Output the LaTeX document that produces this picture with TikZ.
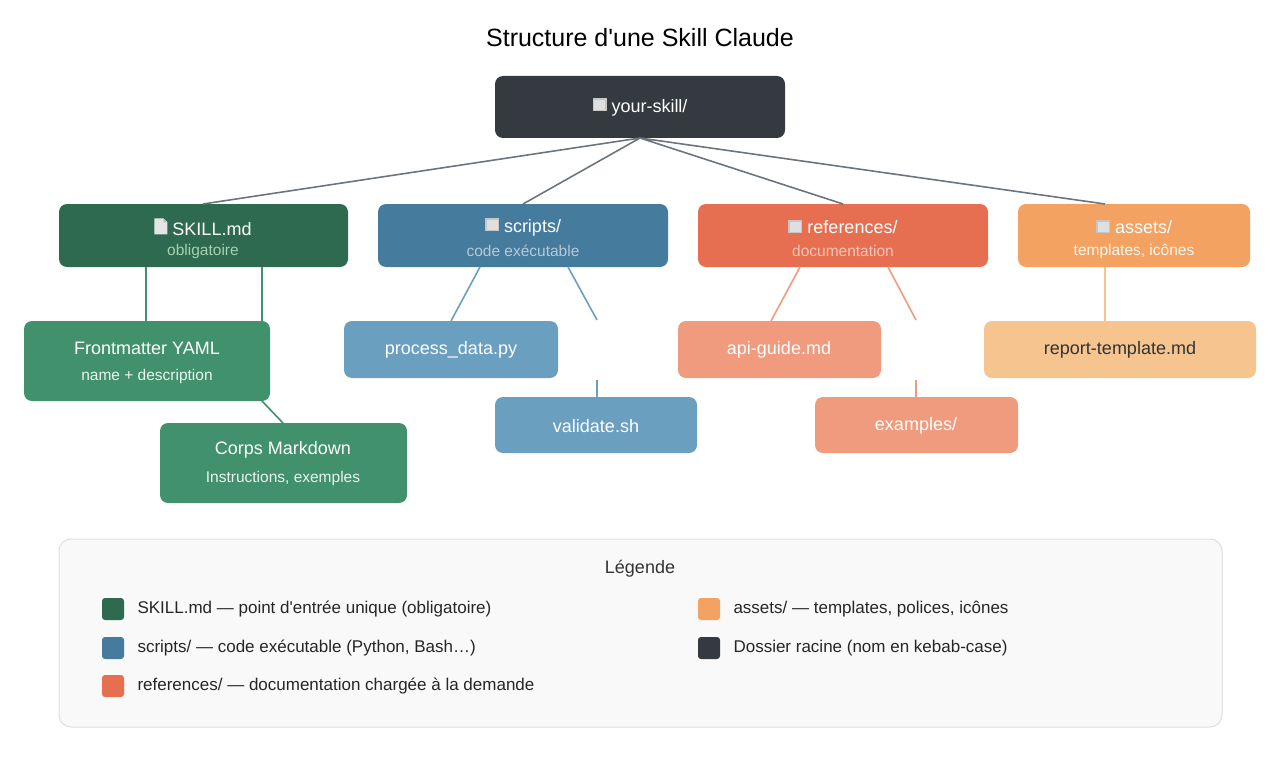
\documentclass[tikz,border=0pt]{standalone}
\usepackage{fontspec}
\setmainfont{Liberation Sans}
\begin{document}
\definecolor{cdark}{HTML}{343A40}
\definecolor{cgreen}{HTML}{2D6A4F}
\definecolor{cgreenl}{HTML}{40916C}
\definecolor{cblue}{HTML}{457B9D}
\definecolor{cbluel}{HTML}{6A9FBF}
\definecolor{cred}{HTML}{E76F51}
\definecolor{credl}{HTML}{F09A7E}
\definecolor{corange}{HTML}{F4A261}
\definecolor{corangel}{HTML}{F5C48F}
\definecolor{cedge}{HTML}{6C757D}
\newcommand{\fico}{\tikz[baseline=-1pt,x=1pt,y=1pt]{\fill[gray!45] (0,0) rectangle (14,13);\fill[gray!25](1.5,1)rectangle(12.5,11);}\hspace{5pt}}
\newcommand{\dico}{\tikz[baseline=-1pt,x=1pt,y=1pt]{\fill[gray!20] (0,0) -- (0,16) -- (9,16) -- (13,12) -- (13,0) -- cycle;\fill[gray!50](9,16)--(9,12)--(13,12)--cycle;}\hspace{5pt}}
\begin{tikzpicture}[x=1pt,y=-1pt,
 box/.style={rounded corners=8pt,draw=none},
 lab/.style={font=\fontsize{18}{21}\selectfont,text=white},
 sub/.style={font=\fontsize{15.5}{18}\selectfont},
 e/.style={line width=1.6pt}]
\useasboundingbox (0,0) rectangle (1280,757);
\node[font=\fontsize{25}{29}\selectfont] (title) at (640,38) {Structure d\textquotesingle une Skill Claude};
% root
\fill[cdark,box] (495,76) rectangle (785,138);
\node[lab] (root) at (640,107) {\fico your-skill/};
% level 1
\fill[cgreen,box] (59,204) rectangle (348,267);
\node[lab] (skill) at (203,227) {\dico SKILL.md};
\node[sub,text=green!20!cgreen!40!white] (skills) at (203,251) {obligatoire};
\fill[cblue,box] (378,204) rectangle (668,267);
\node[lab] (scripts) at (523,227) {\fico scripts/};
\node[sub,text=cblue!40!white] (scriptss) at (523,251) {code exécutable};
\fill[cred,box] (698,204) rectangle (988,267);
\node[lab] (refs) at (843,227) {\fico references/};
\node[sub,text=cred!40!white] (refss) at (843,251) {documentation};
\fill[corange,box] (1018,204) rectangle (1250,267);
\node[lab] (assets) at (1134,227) {\fico assets/};
\node[sub,text=white!90!corange] (assetss) at (1134,251) {templates, icônes};
% level 2
\fill[cgreenl,box] (24,321) rectangle (270,401);
\node[lab] (fm) at (147,348) {Frontmatter YAML};
\node[sub,text=white!90!cgreenl] (fms) at (147,376) {name + description};
\fill[cgreenl,box] (160,423) rectangle (407,503);
\node[lab] (corps) at (283,450) {Corps Markdown};
\node[sub,text=white!90!cgreenl] (corpss) at (283,478) {Instructions, exemples};
\fill[cbluel,box] (344,321) rectangle (558,378);
\node[lab] (pd) at (451,350) {process\_data.py};
\fill[cbluel,box] (495,397) rectangle (697,453);
\node[lab] (val) at (596,426) {validate.sh};
\fill[credl,box] (678,321) rectangle (881,378);
\node[lab] (api) at (779,350) {api-guide.md};
\fill[credl,box] (815,397) rectangle (1018,453);
\node[lab] (ex) at (916,426) {examples/};
\fill[corangel,box] (984,321) rectangle (1256,378);
\node[lab,text=black!80] (rt) at (1120,350) {report-template.md};
% connectors
\coordinate (r0) at (640,138);
\draw[e,cedge] (r0) -- (203,204) (r0) -- (523,204) (r0) -- (843,204) (r0) -- (1105,204);
\draw[e,cgreenl] (146,267) -- (146,321) (262,267) -- (262,321) (262,401) -- (283,423);
\draw[e,cbluel] (480,267) -- (451,321) (568,267) -- (597,320) (597,380) -- (597,397);
\draw[e,credl] (800,267) -- (771,321) (888,267) -- (916,320) (916,380) -- (916,397);
\draw[e,corangel] (1105,267) -- (1105,321);
% legend
\draw[rounded corners=12pt,fill=gray!5,draw=gray!25,line width=1pt] (59,539) rectangle (1222,727);
\node[font=\fontsize{18}{21}\selectfont,text=black!80] (lt) at (640,569) {Légende};
\tikzset{sq/.style={rounded corners=3pt},lt/.style={anchor=west,font=\fontsize{17}{20}\selectfont,text=black!85}}
\fill[cgreen,sq] (102,598) rectangle (124,620);
\node[lt] (l1) at (134,609) {SKILL.md — point d\textquotesingle entrée unique (obligatoire)};
\fill[cblue,sq] (102,637) rectangle (124,659);
\node[lt] (l2) at (134,648) {scripts/ — code exécutable (Python, Bash…)};
\fill[cred,sq] (102,675) rectangle (124,697);
\node[lt] (l3) at (134,686) {references/ — documentation chargée à la demande};
\fill[corange,sq] (698,598) rectangle (720,620);
\node[lt] (l4) at (730,609) {assets/ — templates, polices, icônes};
\fill[cdark,sq] (698,637) rectangle (720,659);
\node[lt] (l5) at (730,648) {Dossier racine (nom en kebab-case)};
\end{tikzpicture}
\end{document}
